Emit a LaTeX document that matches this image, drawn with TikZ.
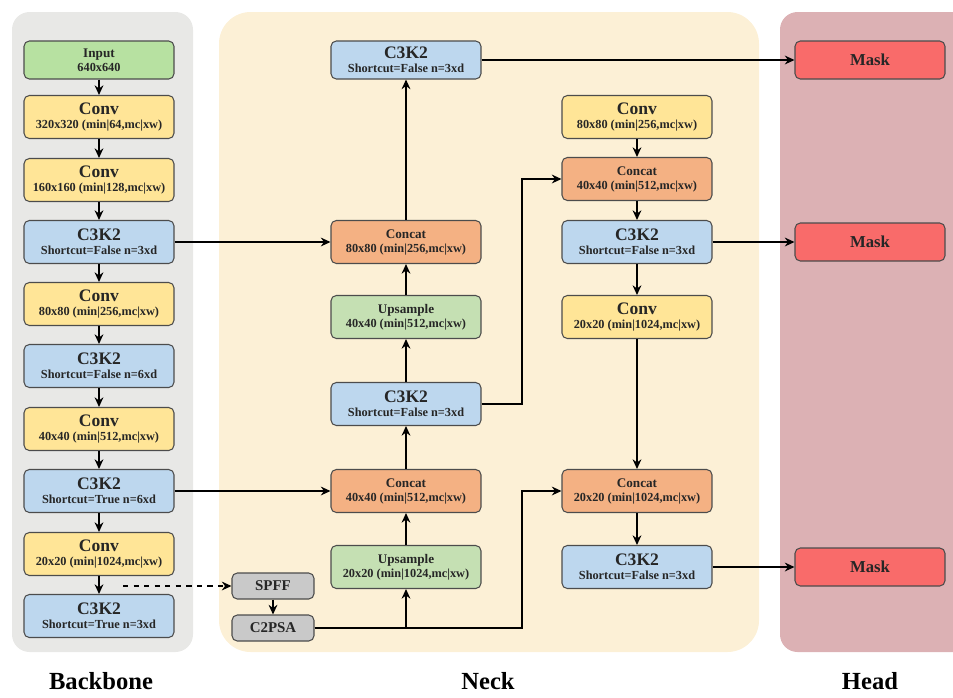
\documentclass[tikz,border=0pt]{standalone}
\usepackage{fontspec}
\setmainfont{Liberation Serif}
\usetikzlibrary{arrows.meta}
\definecolor{bbpanel}{HTML}{E8E8E6}
\definecolor{nkpanel}{HTML}{FCF0D6}
\definecolor{hdpanel}{HTML}{DCB1B4}
\definecolor{ingreen}{HTML}{B7E1A1}
\definecolor{upgreen}{HTML}{C5E0B3}
\definecolor{convyel}{HTML}{FFE597}
\definecolor{c3blue}{HTML}{BDD7EE}
\definecolor{catorange}{HTML}{F4B183}
\definecolor{spgray}{HTML}{C9C9C9}
\definecolor{maskred}{HTML}{F96B6A}
% two-line box text: big title / small title
\newcommand{\lay}[2]{{\fontsize{10}{8}\selectfont #1}\\{\fontsize{7}{8}\selectfont #2}}
\newcommand{\lays}[2]{{\fontsize{7.5}{8}\selectfont #1}\\{\fontsize{7}{8}\selectfont #2}}
\begin{document}
\begin{tikzpicture}[x=0.02cm, y=-0.02cm,
    blk/.style={draw=black!70, line width=0.6pt, rounded corners=3pt, minimum width=3cm,
      minimum height=0.86cm, align=center, font=\bfseries\fontsize{7}{8}\selectfont,
      text=black!85, inner sep=1pt},
    arr/.style={-{Stealth[length=5.5pt,width=5pt,inset=1.8pt]}, line width=0.8pt},
    lbl/.style={font=\fontsize{14}{16}\selectfont\bfseries}]
    \useasboundingbox (0,0) rectangle (953,697);
    % panels
    \fill[bbpanel, rounded corners=10pt] (12,12) rectangle (193,652);
    \fill[nkpanel, rounded corners=18pt] (219,12) rectangle (759,652);
    \begin{scope}
      \clip (0,0) rectangle (953,697);
      \fill[hdpanel, rounded corners=10pt] (780,12) rectangle (975,652);
    \end{scope}
    \node[lbl] (lbb) at (101,681) {Backbone};
    \node[lbl] (lnk) at (488,681) {Neck};
    \node[lbl] (lhd) at (870,681) {Head};
    % backbone
    \node[blk, fill=ingreen, minimum height=0.76cm] (bb0) at (99,60) {\lays{Input}{640x640}};
    \node[blk, fill=convyel] (bb1) at (99,117) {\lay{Conv}{320x320 (min|64,mc|xw)}};
    \node[blk, fill=convyel] (bb2) at (99,180) {\lay{Conv}{160x160 (min|128,mc|xw)}};
    \node[blk, fill=c3blue] (bb3) at (99,242) {\lay{C3K2}{Shortcut=False n=3xd}};
    \node[blk, fill=convyel] (bb4) at (99,304) {\lay{Conv}{80x80 (min|256,mc|xw)}};
    \node[blk, fill=c3blue] (bb5) at (99,366) {\lay{C3K2}{Shortcut=False n=6xd}};
    \node[blk, fill=convyel] (bb6) at (99,429) {\lay{Conv}{40x40 (min|512,mc|xw)}};
    \node[blk, fill=c3blue] (bb7) at (99,491) {\lay{C3K2}{Shortcut=True n=6xd}};
    \node[blk, fill=convyel] (bb8) at (99,554) {\lay{Conv}{20x20 (min|1024,mc|xw)}};
    \node[blk, fill=c3blue] (bb9) at (99,616) {\lay{C3K2}{Shortcut=True n=3xd}};
    \foreach \a/\b in {bb0/bb1,bb1/bb2,bb2/bb3,bb3/bb4,bb4/bb5,bb5/bb6,bb6/bb7,bb7/bb8,bb8/bb9}
      \draw[arr] (\a) -- (\b);
    % neck
    \node[blk, fill=spgray, minimum width=1.64cm, minimum height=0.52cm] (spff) at (273,586) {\fontsize{8.5}{9}\selectfont SPFF};
    \node[blk, fill=spgray, minimum width=1.64cm, minimum height=0.52cm] (c2psa) at (273,628) {\fontsize{8.5}{9}\selectfont C2PSA};
    \node[blk, fill=c3blue, minimum height=0.76cm] (nk0) at (406,60) {\lay{C3K2}{Shortcut=False n=3xd}};
    \node[blk, fill=catorange] (nk1) at (406,242) {\lays{Concat}{80x80 (min|256,mc|xw)}};
    \node[blk, fill=upgreen] (nk2) at (406,317) {\lays{Upsample}{40x40 (min|512,mc|xw)}};
    \node[blk, fill=c3blue] (nk3) at (406,404) {\lay{C3K2}{Shortcut=False n=3xd}};
    \node[blk, fill=catorange] (nk4) at (406,491) {\lays{Concat}{40x40 (min|512,mc|xw)}};
    \node[blk, fill=upgreen] (nk5) at (406,567) {\lays{Upsample}{20x20 (min|1024,mc|xw)}};
    \node[blk, fill=convyel] (rc0) at (637,117) {\lay{Conv}{80x80 (min|256,mc|xw)}};
    \node[blk, fill=catorange] (rc1) at (637,179) {\lays{Concat}{40x40 (min|512,mc|xw)}};
    \node[blk, fill=c3blue] (rc2) at (637,242) {\lay{C3K2}{Shortcut=False n=3xd}};
    \node[blk, fill=convyel] (rc3) at (637,317) {\lay{Conv}{20x20 (min|1024,mc|xw)}};
    \node[blk, fill=catorange] (rc4) at (637,491) {\lays{Concat}{20x20 (min|1024,mc|xw)}};
    \node[blk, fill=c3blue] (rc5) at (637,567) {\lay{C3K2}{Shortcut=False n=3xd}};
    \coordinate (dsh) at (123,586);
    \coordinate (jn1) at (522,404);
    \coordinate (jn2) at (522,628);
    \draw[arr, dashed] (dsh) -- (spff);
    \draw[arr] (spff) -- (c2psa);
    \draw[arr] (c2psa.east) -| (nk5.south);
    \draw[arr] (c2psa.east) -- (jn2) |- (rc4.west);
    \draw[arr] (bb3) -- (nk1);
    \draw[arr] (bb7) -- (nk4);
    \foreach \a/\b in {nk5/nk4,nk4/nk3,nk3/nk2,nk2/nk1,nk1/nk0,rc0/rc1,rc1/rc2,rc2/rc3,rc3/rc4,rc4/rc5}
      \draw[arr] (\a) -- (\b);
    \draw[arr] (nk3.east) -- (jn1) |- (rc1.west);
    % head
    \node[blk, fill=maskred, minimum height=0.76cm] (hd0) at (870,60) {\fontsize{9.5}{10}\selectfont Mask};
    \node[blk, fill=maskred, minimum height=0.76cm] (hd1) at (870,242) {\fontsize{9.5}{10}\selectfont Mask};
    \node[blk, fill=maskred, minimum height=0.76cm] (hd2) at (870,567) {\fontsize{9.5}{10}\selectfont Mask};
    \draw[arr] (nk0) -- (hd0);
    \draw[arr] (rc2) -- (hd1);
    \draw[arr] (rc5) -- (hd2);
\end{tikzpicture}
\end{document}
